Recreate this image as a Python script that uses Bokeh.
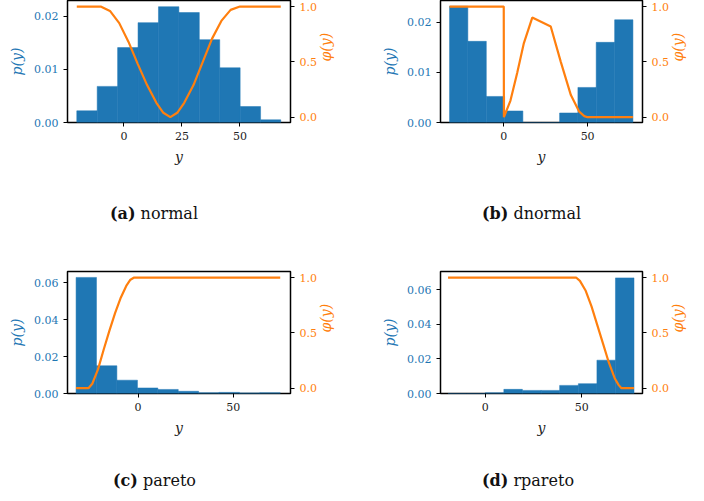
import math
from bokeh.plotting import figure
from bokeh.layouts import column, row
from bokeh.models import LinearAxis, Range1d, FixedTicker, NumeralTickFormatter, Div
from bokeh.embed import file_html
from bokeh.resources import INLINE

BLUE = "#1f77b4"
ORANGE = "#ff7f0e"
SERIF = "DejaVu Serif"

# (a) normal
a_edges = [-20.3, -11.5, -2.7, 6.1, 14.9, 23.7, 32.5, 41.3, 50.1, 58.9, 67.6]
a_hist = [0.0022, 0.0068, 0.0141, 0.0188, 0.0218, 0.0207, 0.0156, 0.0103, 0.0030, 0.0005]
a_phi_x = [-20.3, -10, -6, -2, 2, 6, 10, 14, 17, 20, 23, 26, 30, 34, 38, 42, 46, 50, 67.6]
a_phi_y = [1.0, 1.0, 0.96, 0.85, 0.68, 0.48, 0.29, 0.13, 0.04, 0.0, 0.04, 0.13, 0.29, 0.5, 0.71, 0.87, 0.97, 1.0, 1.0]

# (b) dnormal
b_edges = [-32.3, -21.4, -10.4, 0.5, 11.4, 22.3, 33.3, 44.2, 55.1, 66.1, 77.0]
b_hist = [0.0232, 0.0162, 0.0052, 0.0023, 0.0, 0.0, 0.0019, 0.0070, 0.0160, 0.0205]
b_phi_x = [-32.3, 0, 0.1, 4, 8, 12, 17, 28, 34, 40, 45, 48, 50, 77.0]
b_phi_y = [1.0, 1.0, 0.0, 0.15, 0.4, 0.67, 0.9, 0.82, 0.5, 0.2, 0.05, 0.01, 0.0, 0.0]

# (c) pareto
c_edges = [-32.5, -21.8, -11.1, -0.3, 10.4, 21.1, 31.8, 42.5, 53.2, 63.9, 74.6]
c_hist = [0.0628, 0.0150, 0.0072, 0.0030, 0.0022, 0.0012, 0.0004, 0.0006, 0.0003, 0.0004]
c_phi_x = [-32.5, -26, -24, -21, -18, -15, -12, -9, -6, -4, -2, 74.6]
c_phi_y = [0.0, 0.0, 0.04, 0.17, 0.35, 0.52, 0.68, 0.82, 0.93, 0.98, 1.0, 1.0]

# (d) rpareto
d_edges = [-19.3, -9.7, -0.1, 9.6, 19.2, 28.9, 38.5, 48.2, 57.8, 67.4, 77.0]
d_hist = [0.0, 0.0, 0.0004, 0.0024, 0.0018, 0.0018, 0.0047, 0.0057, 0.0193, 0.0670]
d_phi_x = [-19.3, 47, 49, 52, 55, 58, 61, 64, 67, 69, 70.5, 77.0]
d_phi_y = [1.0, 1.0, 0.97, 0.88, 0.74, 0.57, 0.4, 0.23, 0.09, 0.03, 0.0, 0.0]


def panel(edges, hist, px, py, xr, yr, xticks, yticks, width, bl, bt):
    p = figure(width=width, height=bt + 122 + 58, x_range=Range1d(*xr), y_range=Range1d(*yr),
               output_backend="svg", toolbar_location=None,
               min_border_left=bl, min_border_top=bt, min_border_right=10,
               min_border_bottom=58)
    p.extra_y_ranges = {"phi": Range1d(-0.048, 1.0545)}
    p.quad(left=edges[:-1], right=edges[1:], bottom=0, top=hist,
           fill_color=BLUE, line_color=BLUE, line_width=0.5)
    p.line(px, py, y_range_name="phi", color=ORANGE, line_width=2.2)
    right = LinearAxis(y_range_name="phi", axis_label="φ(y)",
                       ticker=FixedTicker(ticks=[0, 0.5, 1.0]),
                       formatter=NumeralTickFormatter(format="0.0"))
    p.add_layout(right, "right")
    p.xaxis.ticker = FixedTicker(ticks=xticks)
    p.yaxis[0].ticker = FixedTicker(ticks=yticks)
    p.yaxis[0].formatter = NumeralTickFormatter(format="0.00")
    p.xaxis.axis_label = "y"
    p.yaxis[0].axis_label = "p(y)"
    for ax in p.axis:
        ax.axis_label_text_font = SERIF
        ax.axis_label_text_font_style = "italic"
        ax.axis_label_text_font_size = "14px"
        ax.major_label_text_font = SERIF
        ax.major_label_text_font_size = "11px"
        ax.minor_tick_line_color = None
        ax.major_tick_in = 0
        ax.major_tick_out = 4
        ax.axis_line_color = None
        ax.major_tick_line_color = "black"
        ax.axis_label_standoff = 6
    right.axis_label_orientation = math.pi / 2
    p.yaxis[0].major_label_text_color = BLUE
    p.yaxis[0].axis_label_text_color = BLUE
    right.major_label_text_color = ORANGE
    right.axis_label_text_color = ORANGE
    p.xaxis.major_label_text_color = "#222222"
    p.xaxis.axis_label_text_color = "#222222"
    p.grid.visible = False
    p.outline_line_color = "black"
    p.outline_line_width = 1.5
    return p


def caption(tag, name, width, height, pad_left, line):
    return Div(text=f"<b>{tag}</b>&nbsp;{name}", width=width, height=height,
               styles={"font-family": SERIF, "font-size": "16px", "color": "#111",
                       "padding-left": f"{pad_left}px", "line-height": f"{line}px"})


pa = panel(a_edges, a_hist, a_phi_x, a_phi_y, (-24.3, 71.8), (0, 0.02297),
           [0, 25, 50], [0, 0.01, 0.02], 344, 67, 0)
pb = panel(b_edges, b_hist, b_phi_x, b_phi_y, (-37.7, 82.7), (0, 0.02435),
           [0, 50], [0, 0.01, 0.02], 352, 96, 0)
pc = panel(c_edges, c_hist, c_phi_x, c_phi_y, (-37, 80), (0, 0.066),
           [0, 50], [0, 0.02, 0.04, 0.06], 344, 67, 19)
pd_ = panel(d_edges, d_hist, d_phi_x, d_phi_y, (-23.2, 81.4), (0, 0.0707),
            [0, 50], [0, 0.02, 0.04, 0.06], 352, 96, 19)

cap_a = caption("(a)", "normal", 344, 62, 105, 58)
cap_b = caption("(b)", "dnormal", 352, 62, 123, 58)
cap_c = caption("(c)", "pareto", 344, 42, 108, 50)
cap_d = caption("(d)", "rpareto", 352, 42, 123, 50)

p = column(row(pa, pb), row(cap_a, cap_b), row(pc, pd_), row(cap_c, cap_d), spacing=0)
open("out.html", "w").write(file_html(p, INLINE))
